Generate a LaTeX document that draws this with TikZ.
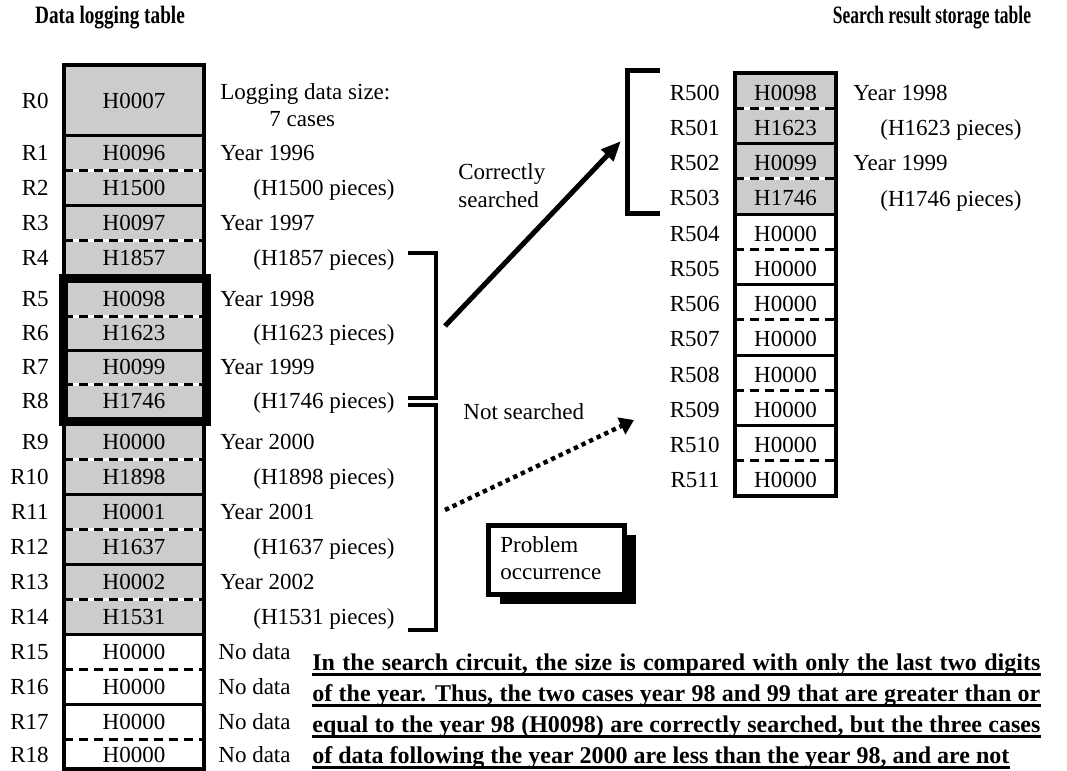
\documentclass[tikz,border=0pt]{standalone}
\usepackage{fontspec}
\setmainfont{Liberation Serif}
\usetikzlibrary{arrows.meta,shadows,positioning}

\begin{document}
\begin{tikzpicture}
	[x=0.5pt,y=-0.5pt,
	txt/.style={inner sep=0pt,font=\fontsize{11.5}{14}\selectfont,text height=7.6pt,text depth=0pt},
	cell/.style={txt},
	reg/.style={txt,anchor=east},
	note/.style={txt,anchor=west},
	head/.style={inner sep=0pt,font={\fontsize{12.5}{14}\selectfont\bfseries}},
	solidsep/.style={line width=1.5pt},
	dashsep/.style={line width=1.5pt,dash pattern=on 4.5pt off 3pt},
	gapsep/.style={line width=1.5pt,white},
	frame/.style={line width=2pt},
	hit/.style={line width=4.5pt},
	brk/.style={line width=2pt},
	rbrk/.style={line width=2.5pt},
	okarrow/.style={line width=2.5pt,-{Triangle[length=10pt,width=8pt]}},
	ngarrow/.style={line width=2.2pt,dash pattern=on 2.2pt off 2pt,-{Triangle[length=7pt,width=9pt]}},
	probbox/.style={draw,fill=white,line width=2.5pt,minimum width=68pt,minimum height=34.5pt,inner sep=0pt,
		drop shadow={shadow xshift=5.5pt,shadow yshift=-4.5pt,fill=black,opacity=1}},
	ulab/.style={inner sep=0pt,font={\fontsize{12}{14}\selectfont\bfseries},anchor=base west},
	uline/.style={line width=1.2pt}]
	\useasboundingbox (0,0) rectangle (1067,771);

	\node[head] (lhead) at (110,18) {\scalebox{0.77}[1]{Data logging table}};
	\node[head] (rhead) at (932,18) {\scalebox{0.7}[1]{Search result storage table}};

	\fill[gray!40] (64,65) rectangle (204,634);
	\foreach \yy in {135,205,350,494,564,634,704}
	\draw[solidsep] (64,\yy) -- (204,\yy);
	\foreach \yy in {170,240,316,384,459,529,599,669,739}
	{\draw[gapsep] (64,\yy) -- (204,\yy);
	\draw[dashsep] (64,\yy) -- (204,\yy);}
	\draw[frame] (64,65) rectangle (204,769);
	\draw[hit] (63.5,278) rectangle (206,421);

	\foreach \i/\v/\yc in {0/H0007/101, 1/H0096/152.5, 2/H1500/187.5, 3/H0097/222.5, 4/H1857/257.5,
		5/H0098/299, 6/H1623/333, 7/H0099/367, 8/H1746/401, 9/H0000/441.5, 10/H1898/476.5,
		11/H0001/511.5, 12/H1637/546.5, 13/H0002/581.5, 14/H1531/616.5, 15/H0000/651.5,
		16/H0000/686.5, 17/H0000/721.5, 18/H0000/755}
	{\node[cell] (d\i) at (134,\yc) {\v};
	\node[reg] (r\i) at (49,\yc) {R\i};}

	\node[note] (lsize) at (220,92) {Logging data size:};
	\node[note] (lcase) at (269,119) {7 cases};
	\foreach \n/\yc/\t in {a/152.5/Year 1996, b/222.5/Year 1997, c/299/Year 1998, d/367/Year 1999,
		e/441.5/Year 2000, f/511.5/Year 2001, g/581.5/Year 2002}
	\node[note] (yr\n) at (220,\yc) {\t};
	\foreach \n/\yc/\t in {a/187.5/H1500, b/257.5/H1857, c/333/H1623, d/401/H1746,
		e/476.5/H1898, f/546.5/H1637, g/616.5/H1531}
	\node[note] (pc\n) at (253,\yc) {(\t\ pieces)};
	\foreach \n/\yc in {a/651.5, b/686.5, c/721.5, d/755}
	\node[note] (nd\n) at (218,\yc) {No data};

	\fill[gray!40] (735,73) rectangle (836,214);
	\foreach \yy in {143.5,214,284.5,355,425.5}
	\draw[solidsep] (735,\yy) -- (836,\yy);
	\foreach \yy in {108.25,178.75,249.25,319.75,390.25,460.75}
	{\draw[gapsep] (735,\yy) -- (836,\yy);
	\draw[dashsep] (735,\yy) -- (836,\yy);}
	\draw[frame] (735,73) rectangle (836,496);

	\foreach \k/\v [evaluate=\k as \rn using int(500+\k)] in {0/H0098, 1/H1623, 2/H0099, 3/H1746,
		4/H0000, 5/H0000, 6/H0000, 7/H0000, 8/H0000, 9/H0000, 10/H0000, 11/H0000}
	{\node[cell] (s\k) at (785.5,{75+35.25*(\k+0.5)}) {\v};
	\node[reg] (q\k) at (720,{75+35.25*(\k+0.5)}) {R\rn};}

	\node[note] (ryra) at (853,92.6) {Year 1998};
	\node[note] (rpca) at (880,127.9) {(H1623 pieces)};
	\node[note] (ryrb) at (853,163.1) {Year 1999};
	\node[note] (rpcb) at (880,198.4) {(H1746 pieces)};

	\draw[rbrk] (660,70) -- (627,70) -- (627,213) -- (660,213);
	\draw[brk] (408,253) -- (436,253) -- (436,398) -- (408,398);
	\draw[brk] (408,405) -- (436,405) -- (436,630) -- (408,630);

	\coordinate (okfrom) at (445,326);
	\coordinate (okto) at (621,141);
	\draw[okarrow] (okfrom) -- (okto);
	\coordinate (ngfrom) at (445,510);
	\coordinate (ngto) at (634,420);
	\draw[ngarrow] (ngfrom) -- (ngto);

	\node[note] (corr) at (458,172) {Correctly};
	\node[note] (srch) at (458,200) {searched};
	\node[note] (nots) at (463,412) {Not searched};

	\node[probbox] (prob) at (556.5,560) {};
	\node[note] (pba) at (500,545) {Problem};
	\node[note] (pbb) at (500,572) {occurrence};

	\node[ulab] (ta) at (312,670) {\makebox[364pt][s]{In the search circuit, the size is compared with only the last two digits}};
	\node[ulab] (tb) at (312,701) {\makebox[364pt][s]{of the year. Thus, the two cases year 98 and 99 that are greater than or}};
	\node[ulab] (tc) at (312,732) {\makebox[364pt][s]{equal to the year 98 (H0098) are correctly searched, but the three cases}};
	\node[ulab] (td) at (312,763) {of data following the year 2000 are less than the year 98, and are not};
	\foreach \t in {ta,tb,tc,td}
	\draw[uline] ([yshift=-2.2pt]\t.base west) -- ([yshift=-2.2pt]\t.base east);
\end{tikzpicture}
\end{document}
